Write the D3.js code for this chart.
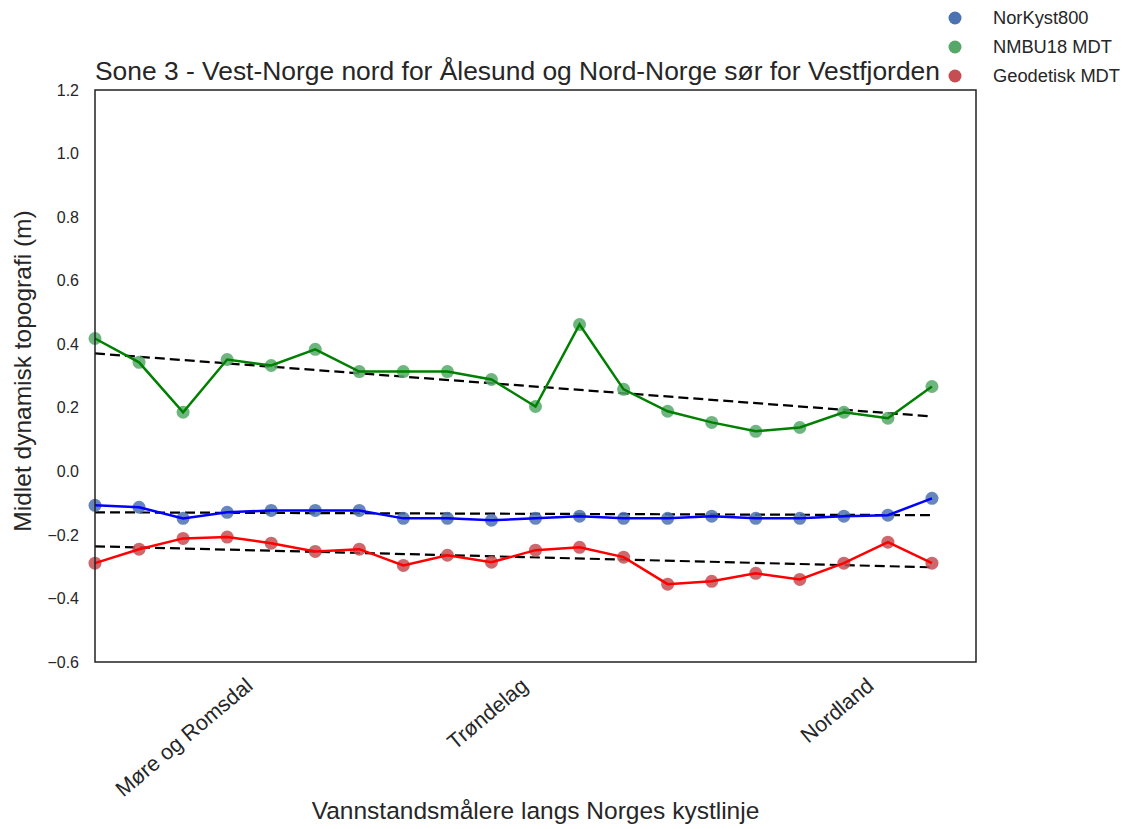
<!DOCTYPE html>
<html lang="en">
<head>
    <meta charset="UTF-8">
    <title>Sone 3</title>
    <script src="https://cdn.jsdelivr.net/npm/d3@7"></script>
    <style>
        body { margin: 0; background: #fff; }
        text { font-family: "Liberation Sans", Arial, sans-serif; fill: #262626; }
    </style>
</head>
<body>
<div id="chart"></div>
<script>
    // stations along the coast, index 0..19
    let stations = d3.range(20);
    let norkyst = [-0.107, -0.113, -0.148, -0.129, -0.123, -0.123, -0.123, -0.148, -0.148, -0.154,
        -0.148, -0.141, -0.148, -0.148, -0.141, -0.148, -0.148, -0.141, -0.138, -0.085];
    let nmbu = [0.418, 0.343, 0.186, 0.352, 0.333, 0.384, 0.314, 0.314, 0.314, 0.289,
        0.204, 0.462, 0.258, 0.189, 0.154, 0.126, 0.138, 0.186, 0.167, 0.267];
    let geodetisk = [-0.289, -0.245, -0.211, -0.207, -0.226, -0.252, -0.245, -0.296, -0.264, -0.286,
        -0.248, -0.239, -0.270, -0.355, -0.346, -0.321, -0.340, -0.289, -0.223, -0.289];
    // dashed trend lines: value at first and last station
    let trendNorkyst = [-0.129, -0.138];
    let trendNmbu = [0.371, 0.173];
    let trendGeodetisk = [-0.236, -0.302];

    let xTickPos = [3.6, 9.85, 17.7];
    let xTickLabels = ["Møre og Romsdal", "Trøndelag", "Nordland"];
    let yTicks = [-0.6, -0.4, -0.2, 0.0, 0.2, 0.4, 0.6, 0.8, 1.0, 1.2];
    let seriesNames = ["NorKyst800", "NMBU18 MDT", "Geodetisk MDT"];

    let series = [
        { name: seriesNames[0], values: norkyst, trend: trendNorkyst, line: "#0000ff", dot: "#4c72b0" },
        { name: seriesNames[1], values: nmbu, trend: trendNmbu, line: "#008000", dot: "#55a868" },
        { name: seriesNames[2], values: geodetisk, trend: trendGeodetisk, line: "#ff0000", dot: "#c44e52" }
    ];

    let W = 1142, H = 829;
    let padding = { top: 90, left: 95, bottom: 167, right: 166 };
    let width = W - padding.left - padding.right;
    let height = H - padding.top - padding.bottom;

    let svg = d3.select("#chart").append("svg")
        .attr("width", W)
        .attr("height", H);

    let focus = svg.append("g")
        .attr("transform", "translate(" + padding.left + "," + padding.top + ")");

    let x = d3.scaleLinear().domain([0, 20]).range([0, width]);
    let y = d3.scaleLinear().domain([-0.6, 1.2]).range([height, 0]);

    /*y axis*/
    let yAxis = d3.axisLeft(y).tickValues(yTicks).tickSize(0).tickPadding(16)
        .tickFormat(d3.format(".1f"));
    focus.append("g").attr("class", "yaxis").call(yAxis)
        .call(g => g.select(".domain").remove())
        .selectAll("text")
        .style("font-size", "16px")
        .style("font-family", "'Liberation Sans', Arial, sans-serif")
        .attr("fill", "#444");

    /*x axis*/
    let xAxis = d3.axisBottom(x).tickValues(xTickPos).tickSize(0).tickPadding(0)
        .tickFormat((d, i) => xTickLabels[i]);
    focus.append("g").attr("class", "xaxis")
        .attr("transform", "translate(0," + height + ")")
        .call(xAxis)
        .call(g => g.select(".domain").remove())
        .selectAll("text")
        .style("font-size", "21.5px")
        .style("font-family", "'Liberation Sans', Arial, sans-serif")
        .attr("fill", "#333")
        .attr("text-anchor", "end")
        .attr("dy", "0")
        .attr("y", 0)
        .attr("transform", "translate(0,26) rotate(-40)");

    let line = d3.line().x((d, i) => x(stations[i])).y(d => y(d));

    series.forEach(s => {
        // trend
        focus.append("line")
            .attr("x1", x(stations[0])).attr("y1", y(s.trend[0]))
            .attr("x2", x(stations[stations.length - 1])).attr("y2", y(s.trend[1]))
            .attr("stroke", "#000").attr("stroke-width", 2.2)
            .attr("stroke-dasharray", "10,5");
        // points
        focus.append("g").selectAll("circle")
            .data(s.values)
            .enter()
            .append("circle")
            .attr("cx", (d, i) => x(stations[i]))
            .attr("cy", d => y(d))
            .attr("r", 6.5)
            .attr("fill", s.dot)
            .attr("opacity", 0.85);
        // connecting line
        focus.append("path")
            .datum(s.values)
            .attr("d", line)
            .attr("fill", "none")
            .attr("stroke", s.line)
            .attr("stroke-width", 2.5);
    });

    // frame
    focus.append("rect")
        .attr("width", width).attr("height", height)
        .attr("fill", "none").attr("stroke", "#222").attr("stroke-width", 1.5);

    // title and labels
    svg.append("text")
        .attr("x", padding.left).attr("y", 80)
        .style("font-size", "26.4px")
        .text("Sone 3 - Vest-Norge nord for Ålesund og Nord-Norge sør for Vestfjorden");
    svg.append("text")
        .attr("x", padding.left + width / 2).attr("y", 819)
        .attr("text-anchor", "middle")
        .style("font-size", "24.5px")
        .text("Vannstandsmålere langs Norges kystlinje");
    svg.append("text")
        .attr("transform", "translate(31," + (padding.top + height / 2 - 5) + ") rotate(-90)")
        .attr("text-anchor", "middle")
        .style("font-size", "24.5px")
        .text("Midlet dynamisk topografi (m)");

    // legend
    let legend = svg.append("g").attr("class", "legend");
    series.forEach((s, i) => {
        let ly = 18 + i * 29;
        legend.append("circle")
            .attr("cx", 955).attr("cy", ly).attr("r", 6.5)
            .attr("fill", s.dot);
        legend.append("text")
            .attr("x", 993).attr("y", ly + 6)
            .style("font-size", "18.3px")
            .text(s.name);
    });
</script>
</body>
</html>
